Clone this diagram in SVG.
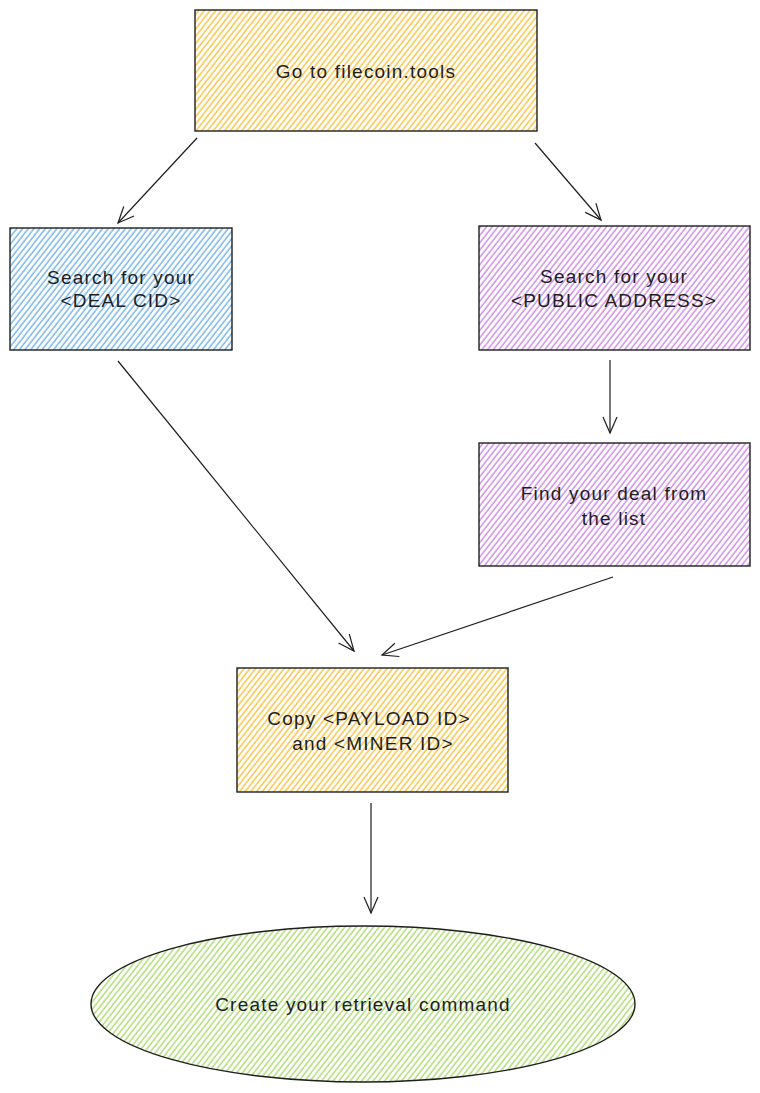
<svg xmlns="http://www.w3.org/2000/svg" width="760" height="1093" viewBox="0 0 760 1093">
<style>
.box{stroke:#1e1e1e;stroke-width:1.4;}
.t{font-family:"Liberation Sans",Arial,sans-serif;font-size:19px;letter-spacing:1.2px;fill:#1e1e1e;text-anchor:middle;}
.c{fill:none;stroke:#1e1e1e;stroke-width:1.2;}
</style>
<defs>
<pattern id="hy" patternUnits="userSpaceOnUse" width="4.5" height="10" patternTransform="rotate(38)"><line x1="1" y1="0" x2="1" y2="10" stroke="#fab005" stroke-width="1.1"/></pattern>
<pattern id="hb" patternUnits="userSpaceOnUse" width="4.5" height="10" patternTransform="rotate(38)"><line x1="1" y1="0" x2="1" y2="10" stroke="#4a9de8" stroke-width="1.1"/></pattern>
<pattern id="hp" patternUnits="userSpaceOnUse" width="4.5" height="10" patternTransform="rotate(38)"><line x1="1" y1="0" x2="1" y2="10" stroke="#c165e0" stroke-width="1.1"/></pattern>
<pattern id="hg" patternUnits="userSpaceOnUse" width="4.5" height="10" patternTransform="rotate(38)"><line x1="1" y1="0" x2="1" y2="10" stroke="#94d145" stroke-width="1.1"/></pattern>
<marker id="ah" viewBox="0 0 20 20" refX="18" refY="10" markerWidth="20" markerHeight="20" markerUnits="userSpaceOnUse" orient="auto"><path d="M2,3 L18,10 L2,17" fill="none" stroke="#1e1e1e" stroke-width="1.2"/></marker>
</defs>
<rect width="760" height="1093" fill="#ffffff"/>
<g id="connectors">
<path class="c" d="M197,138 L118,223" marker-end="url(#ah)"/>
<path class="c" d="M535,143 L601,220" marker-end="url(#ah)"/>
<path class="c" d="M118,361 L354,651" marker-end="url(#ah)"/>
<path class="c" d="M610,360 L610,433" marker-end="url(#ah)"/>
<path class="c" d="M613,577 L382,655" marker-end="url(#ah)"/>
<path class="c" d="M371,803 L371,913" marker-end="url(#ah)"/>
</g>
<g id="n1">
<rect class="box" x="195" y="10" width="342" height="121" fill="url(#hy)"/>
<text class="t" x="366" y="78">Go to filecoin.tools</text>
</g>
<g id="n2">
<rect class="box" x="10" y="228" width="222" height="122" fill="url(#hb)"/>
<text class="t" x="121" y="284">Search for your</text>
<text class="t" x="121" y="307">&lt;DEAL CID&gt;</text>
</g>
<g id="n3">
<rect class="box" x="479" y="226" width="271" height="124" fill="url(#hp)"/>
<text class="t" x="614" y="283">Search for your</text>
<text class="t" x="614" y="307">&lt;PUBLIC ADDRESS&gt;</text>
</g>
<g id="n4">
<rect class="box" x="479" y="443" width="271" height="123" fill="url(#hp)"/>
<text class="t" x="614" y="500">Find your deal from</text>
<text class="t" x="614" y="525">the list</text>
</g>
<g id="n5">
<rect class="box" x="237" y="668" width="271" height="124" fill="url(#hy)"/>
<text class="t" x="369" y="725">Copy &lt;PAYLOAD ID&gt;</text>
<text class="t" x="373" y="750">and &lt;MINER ID&gt;</text>
</g>
<g id="n6">
<ellipse class="box" cx="363" cy="1004" rx="272" ry="78" fill="url(#hg)"/>
<text class="t" x="363" y="1011">Create your retrieval command</text>
</g>
</svg>
